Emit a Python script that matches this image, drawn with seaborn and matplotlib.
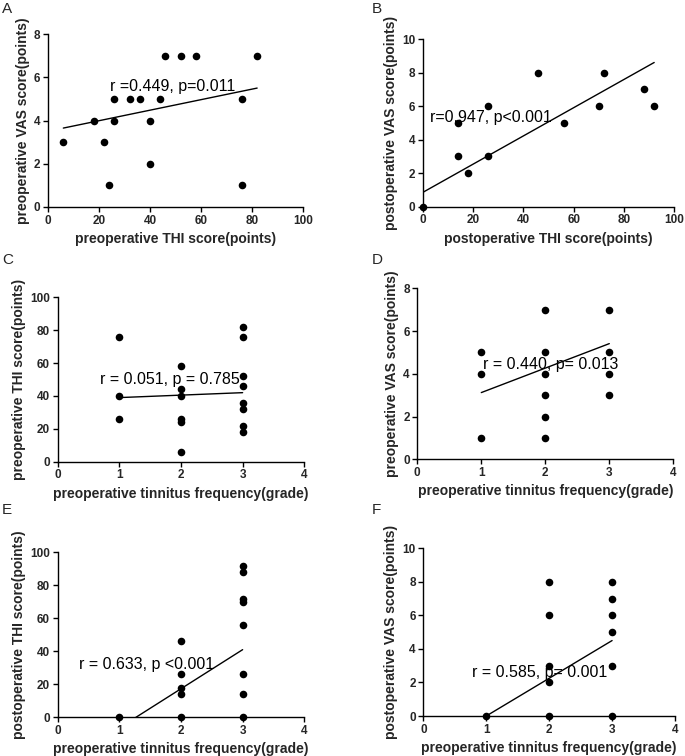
import numpy as np
import pandas as pd
import matplotlib
matplotlib.use("Agg")
import matplotlib.pyplot as plt
import seaborn as sns

sns.set_style("ticks")
plt.rcParams['font.family'] = ['Liberation Sans', 'DejaVu Sans']

# ---- Data ----
# A: preoperative THI vs preoperative VAS
a_x = [6, 18, 22, 24, 26, 26, 32, 36, 40, 40, 44, 46, 52, 58, 76, 76, 82]
a_y = [3, 4, 3, 1, 5, 4, 5, 5, 4, 2, 5, 7, 7, 7, 5, 1, 7]
a_fit_x = [6, 82]
a_fit_y = [3.65, 5.5]
a_text = "r =0.449, p=0.011"

# B: postoperative THI vs postoperative VAS
b_x = [0, 14, 14, 18, 26, 26, 46, 56, 70, 72, 88, 92]
b_y = [0, 5, 3, 2, 6, 3, 8, 5, 6, 8, 7, 6]
b_fit_x = [0, 92]
b_fit_y = [0.85, 8.6]
b_text = "r=0.947, p<0.001"

# C: tinnitus frequency vs preoperative THI
c_x = [1, 1, 1, 2, 2, 2, 2, 2, 2, 3, 3, 3, 3, 3, 3, 3, 3]
c_y = [76, 40, 26, 58, 44, 40, 26, 24, 6, 82, 76, 52, 46, 36, 32, 22, 18]
c_fit_x = [1, 3]
c_fit_y = [39, 42]
c_text = "r = 0.051, p = 0.785"

# D: tinnitus frequency vs preoperative VAS
d_x = [1, 1, 1, 2, 2, 2, 2, 2, 2, 3, 3, 3, 3]
d_y = [5, 4, 1, 7, 5, 4, 3, 2, 1, 7, 5, 4, 3]
d_fit_x = [1, 3]
d_fit_y = [3.12, 5.41]
d_text = "r = 0.440, p= 0.013"

# E: tinnitus frequency vs postoperative THI
e_x = [1, 2, 2, 2, 2, 2, 3, 3, 3, 3, 3, 3, 3, 3]
e_y = [0, 46, 26, 18, 14, 0, 92, 88, 72, 70, 56, 26, 14, 0]
e_fit_x = [1, 3]
e_fit_y = [-6.4, 41]
e_text = "r = 0.633, p <0.001"

# F: tinnitus frequency vs postoperative VAS
f_x = [1, 2, 2, 2, 2, 2, 3, 3, 3, 3, 3, 3]
f_y = [0, 8, 6, 3, 2, 0, 8, 7, 6, 5, 3, 0]
f_fit_x = [1, 3]
f_fit_y = [0, 4.5]
f_text = "r = 0.585, p= 0.001"

panels = [
    dict(letter="A", x=a_x, y=a_y, fx=a_fit_x, fy=a_fit_y, text=a_text, tpos=(24.5, 5.38),
         xlim=(0, 100), xt=[0, 20, 40, 60, 80, 100], ylim=(0, 8), yt=[0, 2, 4, 6, 8],
         xlabel="preoperative THI score(points)", ylabel="preoperative VAS score(points)",
         rect=[0.0701, 0.7262, 0.3723, 0.2288], lpos=(0.003, 0.997)),
    dict(letter="B", x=b_x, y=b_y, fx=b_fit_x, fy=b_fit_y, text=b_text, tpos=(2.8, 5.05),
         xlim=(0, 100), xt=[0, 20, 40, 60, 80, 100], ylim=(0, 10), yt=[0, 2, 4, 6, 8, 10],
         xlabel="postoperative THI score(points)", ylabel="postoperative VAS score(points)",
         rect=[0.6171, 0.7266, 0.3673, 0.2218], lpos=(0.543, 0.997)),
    dict(letter="C", x=c_x, y=c_y, fx=c_fit_x, fy=c_fit_y, text=c_text, tpos=(0.68, 47),
         xlim=(0, 4), xt=[0, 1, 2, 3, 4], ylim=(0, 100), yt=[0, 20, 40, 60, 80, 100],
         xlabel="preoperative tinnitus frequency(grade)", ylabel="preoperative THI score(points)",
         rect=[0.0842, 0.3893, 0.36, 0.2174], lpos=(0.003, 0.666)),
    dict(letter="D", x=d_x, y=d_y, fx=d_fit_x, fy=d_fit_y, text=d_text, tpos=(1.02, 4.2),
         xlim=(0, 4), xt=[0, 1, 2, 3, 4], ylim=(0, 8), yt=[0, 2, 4, 6, 8],
         xlabel="preoperative tinnitus frequency(grade)", ylabel="preoperative VAS score(points)",
         rect=[0.6092, 0.3925, 0.3737, 0.2262], lpos=(0.543, 0.666)),
    dict(letter="E", x=e_x, y=e_y, fx=e_fit_x, fy=e_fit_y, text=e_text, tpos=(0.35, 29.5),
         xlim=(0, 4), xt=[0, 1, 2, 3, 4], ylim=(0, 100), yt=[0, 20, 40, 60, 80, 100],
         xlabel="preoperative tinnitus frequency(grade)", ylabel="postoperative THI score(points)",
         rect=[0.0842, 0.0512, 0.36, 0.2182], lpos=(0.003, 0.335)),
    dict(letter="F", x=f_x, y=f_y, fx=f_fit_x, fy=f_fit_y, text=f_text, tpos=(0.77, 2.3),
         xlim=(0, 4), xt=[0, 1, 2, 3, 4], ylim=(0, 10), yt=[0, 2, 4, 6, 8, 10],
         xlabel="preoperative tinnitus frequency(grade)", ylabel="postoperative VAS score(points)",
         rect=[0.618, 0.0529, 0.3674, 0.2218], lpos=(0.543, 0.335)),
]

fig = plt.figure(figsize=(6.85, 7.56), dpi=100)

for p in panels:
    ax = fig.add_axes(p["rect"])
    df = pd.DataFrame({"x": p["x"], "y": p["y"]})
    fit = pd.DataFrame({"x": p["fx"], "y": p["fy"]})
    sns.lineplot(data=fit, x="x", y="y", ax=ax, color="black", linewidth=1.0,
                 estimator=None, sort=False)
    sns.scatterplot(data=df, x="x", y="y", ax=ax, color="black", s=30,
                    edgecolor="black", linewidth=0, zorder=3, clip_on=False)
    ax.set_xlim(*p["xlim"])
    ax.set_ylim(*p["ylim"])
    ax.set_xticks(p["xt"])
    ax.set_yticks(p["yt"])
    ax.set_xticklabels([str(v) for v in p["xt"]], fontsize=8.5, fontweight="bold")
    ax.set_yticklabels([str(v) for v in p["yt"]], fontsize=8.5, fontweight="bold")
    ax.set_xlabel(p["xlabel"], fontsize=10, fontweight="bold", labelpad=4)
    ax.set_ylabel(p["ylabel"], fontsize=10, fontweight="bold", labelpad=3)
    ax.tick_params(direction="out", length=3.5, width=1, pad=2, color="black")
    sns.despine(ax=ax)
    for s in ["left", "bottom"]:
        ax.spines[s].set_linewidth(1)
        ax.spines[s].set_color("black")
    ax.text(p["tpos"][0], p["tpos"][1], p["text"], fontsize=11.5, color="black",
            ha="left", va="baseline")
    fig.text(p["lpos"][0], p["lpos"][1], p["letter"], fontsize=11, ha="left", va="top")

fig.savefig("out.png", dpi=100)
